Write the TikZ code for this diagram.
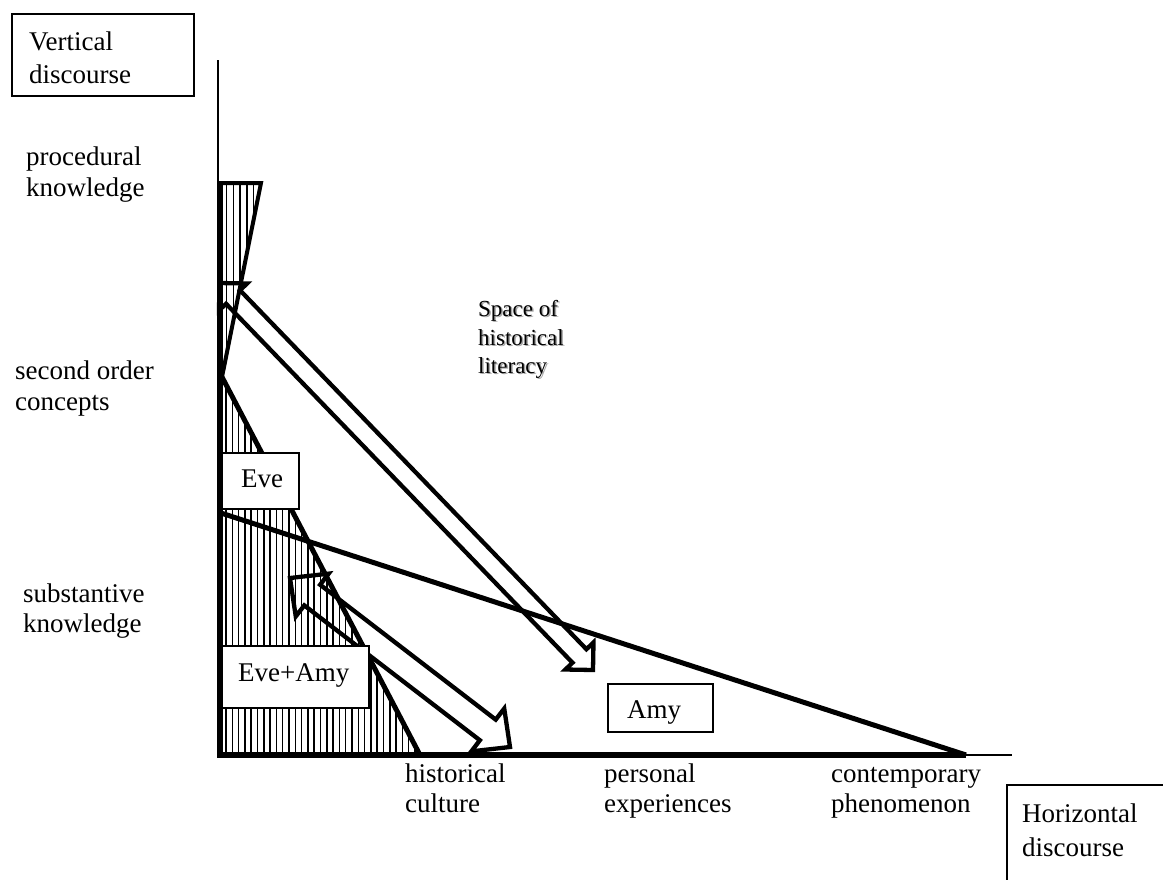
\documentclass[tikz,border=0pt]{standalone}
\usepackage{fontspec}
\setmainfont{Liberation Serif}
\begin{document}
\begin{tikzpicture}[x=1pt,y=-1pt,
  lbl/.style={anchor=base west, inner sep=0pt, font=\fontsize{27}{31}\selectfont},
  smalllbl/.style={anchor=base west, inner sep=0pt, font=\fontsize{23}{28}\selectfont},
  boxed/.style={draw, line width=1.6pt, fill=white, inner sep=0pt},
  thickline/.style={line width=5pt},
  blockarrow/.style={draw, line width=4.3pt, line join=miter},
  hatch/.style={line width=1.5pt},
  axisthin/.style={line width=1.6pt},
  axisthick/.style={line width=6.5pt}]
\useasboundingbox (0,0) rectangle (1163,879);

% hatching
\begin{scope}
  \clip (223,183) -- (261,183) -- (222,377) -- cycle;
  \foreach \x in {226.5,233.3,...,262} \draw[hatch] (\x,180) -- (\x,380);
\end{scope}
\begin{scope}
  \clip (222,377) -- (420,755) -- (220,755) -- cycle;
  \foreach \x in {226,232.3,...,421} \draw[hatch] (\x,370) -- (\x,758);
\end{scope}

% triangle outlines
\draw[line width=4pt] (218,183) -- (261,183) -- (222,377);
\draw[thickline] (222,377) -- (420,755);
\draw[thickline] (221,513) -- (966,755);

% block arrow A (double headed)
\draw[blockarrow] (219.5,283) -- (247.07,283.49) -- (240.02,290.29) -- (586.44,649.23)
  -- (593.49,642.43) -- (593,670) -- (565.43,669.51) -- (572.48,662.71)
  -- (226.06,303.77) -- (219.0,310.57) -- cycle;

% block arrow B (double headed)
\draw[blockarrow] (290,578) -- (328.66,573.65) -- (320.13,584.75) -- (495.71,719.63)
  -- (504.24,708.53) -- (510,747) -- (471.34,751.35) -- (479.87,740.25)
  -- (304.29,605.37) -- (295.76,616.47) -- cycle;

% axes
\draw[axisthin] (218,60) -- (218,755) -- (1012,755);
\draw[axisthick] (220,183) -- (220,758);
\draw[axisthick] (217,755) -- (966,755);

% boxes
\node[boxed, minimum width=77pt, minimum height=56pt] (evebox) at (260.5,481) {};
\node[boxed, minimum width=147pt, minimum height=62pt] (evamybox) at (295.5,677) {};
\node[boxed, minimum width=105pt, minimum height=48pt] (amybox) at (660.5,708) {};
\node[boxed, minimum width=182pt, minimum height=82pt] (vbox) at (103,55) {};
\begin{scope}
  \clip (0,0) rectangle (1163,879);
  \node[boxed, minimum width=180pt, minimum height=120pt, anchor=north west] (hbox) at (1006,784) {};
\end{scope}

% box texts
\node[lbl] (eve) at (241,487) {Eve};
\node[lbl] (evamy) at (238,681) {Eve+Amy};
\node[lbl] (amy) at (627,718) {Amy};
\node[lbl] (v1) at (29,50) {Vertical};
\node[lbl] (v2) at (29,83) {discourse};
\node[lbl] (h1) at (1022,822) {Horizontal};
\node[lbl] (h2) at (1022,856) {discourse};

% left labels
\node[lbl] (p1) at (26,165) {procedural};
\node[lbl] (p2) at (26,196) {knowledge};
\node[lbl] (s1) at (15,379) {second order};
\node[lbl] (s2) at (15,410) {concepts};
\node[lbl] (k1) at (23,602) {substantive};
\node[lbl] (k2) at (23,632) {knowledge};

% bottom labels
\node[lbl] (b1) at (405,782) {historical};
\node[lbl] (b2) at (405,812) {culture};
\node[lbl] (c1) at (604,782) {personal};
\node[lbl] (c2) at (604,812) {experiences};
\node[lbl] (d1) at (831,782) {contemporary};
\node[lbl] (d2) at (831,812) {phenomenon};

% space of historical literacy (with shadow)
\node[smalllbl, text=black!35] (sh1) at (479.5,317.5) {Space of};
\node[smalllbl, text=black!35] (sh2) at (479.5,346.5) {historical};
\node[smalllbl, text=black!35] (sh3) at (479.5,374.5) {literacy};
\node[smalllbl] (sp1) at (478,316) {Space of};
\node[smalllbl] (sp2) at (478,345) {historical};
\node[smalllbl] (sp3) at (478,373) {literacy};
\end{tikzpicture}
\end{document}
